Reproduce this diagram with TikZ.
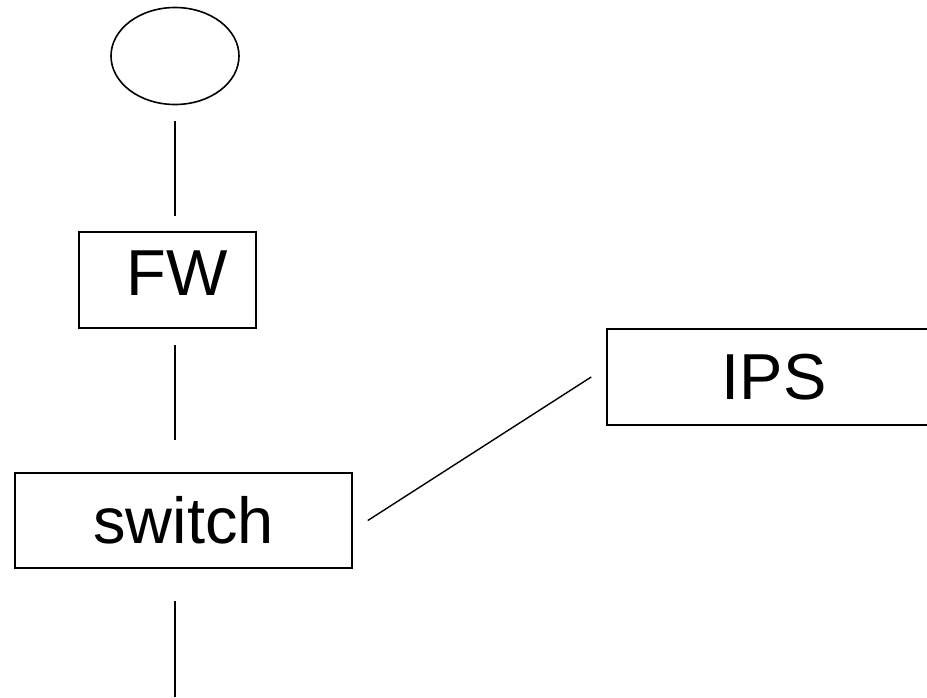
\documentclass[tikz,border=0pt]{standalone}
\usepackage{fontspec}
\setmainfont{Liberation Sans}
\usetikzlibrary{shapes.geometric,calc}
\begin{document}
\begin{tikzpicture}[x=1pt,y=-1pt,
  wire/.style={line width=1.4pt},
  boxnode/.style={draw,line width=1.6pt,rectangle,inner sep=0pt,
    font=\fontsize{65}{78}\selectfont},
  cloudnode/.style={draw,line width=1.6pt,ellipse,inner sep=0pt}]
\useasboundingbox (0,0) rectangle (927,697);
% devices
\node[cloudnode,minimum width=128pt,minimum height=97pt] (net) at (175,56) {};
\node[boxnode,minimum width=177pt,minimum height=96pt] (fw) at (167.5,280)
  {\hspace*{19pt}\raisebox{13pt}{FW}};
\node[boxnode,minimum width=337pt,minimum height=95pt] (sw) at (183.5,520.5) {switch};
\node[boxnode,minimum width=334pt,minimum height=96pt] (ips) at (774,377) {IPS};
\coordinate (down) at (175,697);
% links
\draw[wire] ($(net.south)+(0,16)$) -- ($(fw.north)+(7.5,-15)$);
\draw[wire] ($(fw.south)+(7.5,16)$) -- ($(sw.north)+(-8.5,-32)$);
\draw[wire] ($(sw.south)+(-8.5,32)$) -- (down);
\draw[wire] ($(sw.east)+(15,0)$) -- ($(ips.west)+(-15,0)$);
\end{tikzpicture}
\end{document}
